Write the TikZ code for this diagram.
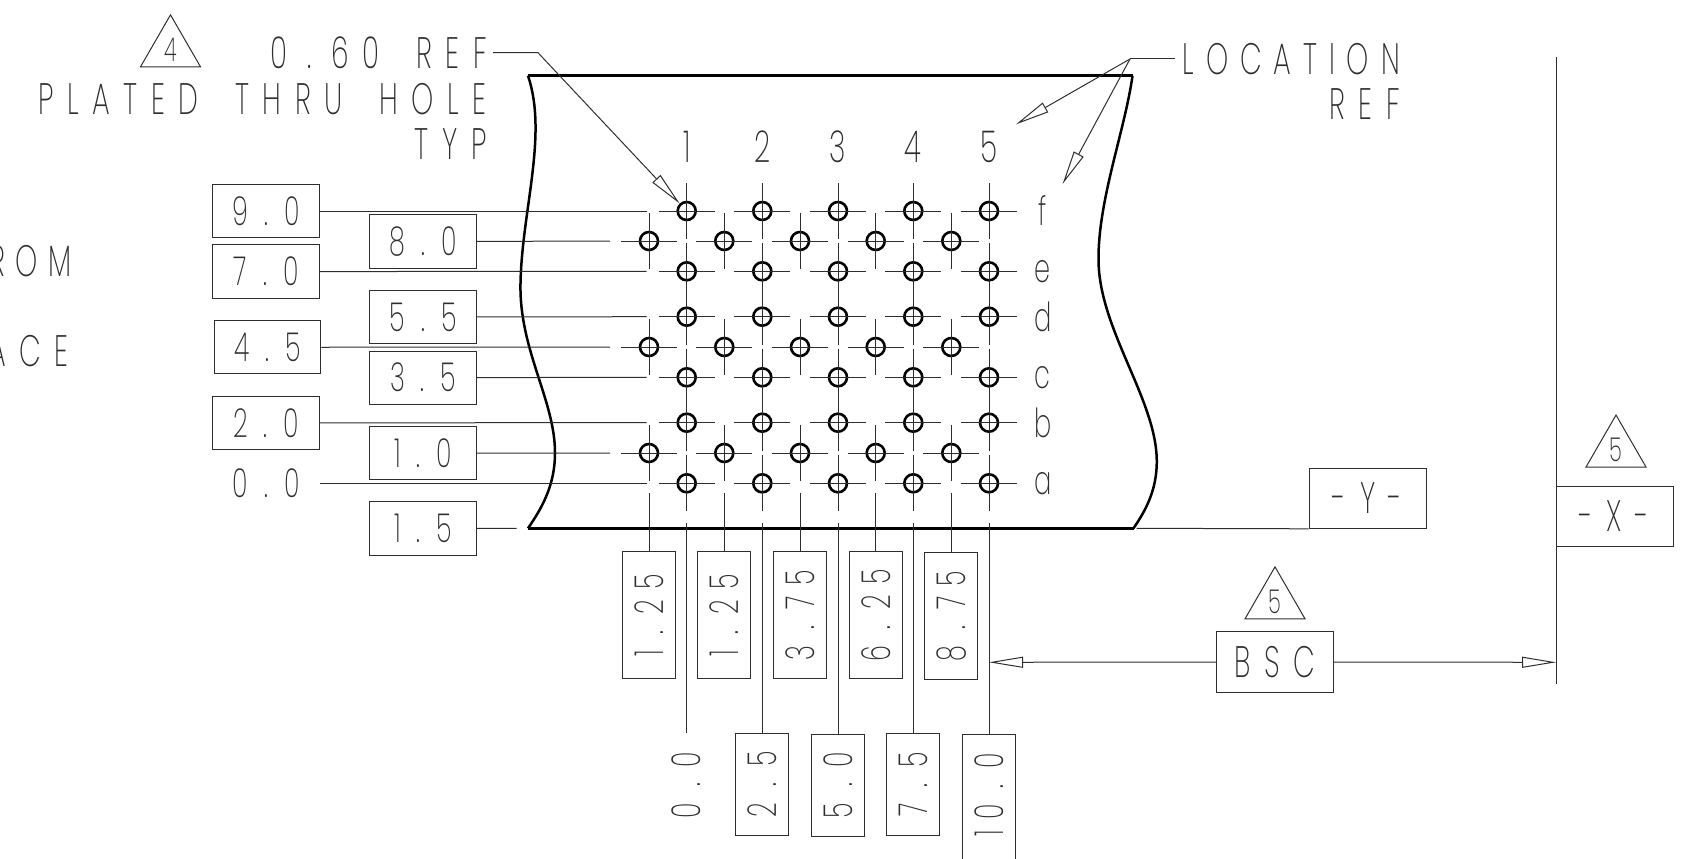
\documentclass[tikz,border=0pt]{standalone}
\usepackage{fontspec}
\newfontfamily\cadfont{Poppins}[UprightFont=* ExtraLight, FakeStretch=0.64, LetterSpace=31, WordSpace=1.7]
\newfontfamily\numfont{Poppins}[UprightFont=* ExtraLight, FakeStretch=0.64, LetterSpace=26]
\newcommand{\pnt}{\hspace{16pt}.\hspace{16pt}}
\usetikzlibrary{shapes.geometric, arrows.meta, positioning}
\colorlet{ink}{black!82}
\tikzstyle{big} = [inner sep=0, text=ink, font=\cadfont\fontsize{44}{50}\selectfont]
\tikzstyle{mid} = [inner sep=0, text=ink, font=\numfont\fontsize{40}{46}\selectfont]
\tikzstyle{dimbox} = [mid, draw=ink, line width=1pt, minimum width=106.5pt, minimum height=53.3pt]
\tikzstyle{upbox} = [dimbox, rotate=90, minimum width=127.3pt]
\tikzstyle{lowbox} = [dimbox, rotate=90, minimum width=102pt]
\tikzstyle{datum} = [big, draw=ink, line width=1pt, minimum width=117pt, minimum height=60pt]
\tikzstyle{flagmark} = [regular polygon, regular polygon sides=3, draw=ink, line width=1pt, minimum size=69.3pt, inner sep=0, text=ink, font=\numfont\fontsize{33}{38}\selectfont]
\tikzstyle{hole} = [circle, draw, line width=2.6pt, minimum size=18pt, inner sep=0]
\tikzstyle{cline} = [draw=ink, line width=1pt]
\tikzstyle{edge} = [draw=black, line width=2.5pt]
\tikzstyle{lead} = [draw=ink, line width=1pt, -{Triangle[open, length=34pt, width=11pt]}]
\begin{document}
\begin{tikzpicture}[x=1pt, y=-1pt]
  \useasboundingbox (0,0) rectangle (1686,859);
  \clip (0,0) rectangle (1686,859);

  % holes, main rows
  \foreach \col/\x in {1/686.7, 2/762.3, 3/838, 4/913.3, 5/989}
    \foreach \row/\y in {f/211, e/271.3, d/316.7, c/377.3, b/422.7, a/483.3} {
      \node[hole] (h\col\row) at (\x,\y) {};
      \draw[cline] (h\col\row.center) ++(-28,0) -- ++(56,0);
    }

  % holes, offset rows
  \foreach \col/\x in {1/649, 2/724.3, 3/800, 4/875.7, 5/951.3}
    \foreach \row/\y in {u/241, m/347, l/453} {
      \node[hole] (o\col\row) at (\x,\y) {};
      \draw[cline] (o\col\row.center) ++(-28,0) -- ++(56,0);
      \draw[cline] (o\col\row.center) ++(0,-28) -- ++(0,56);
    }

  % vertical centre lines
  \foreach \col in {1,...,5} {
    \draw[cline] (h\col f.center) ++(0,-28) -- ++(0,56);
    \draw[cline] (h\col e.center) ++(0,-28) -- ([yshift=-28pt]h\col d.center);
    \draw[cline] (h\col c.center) ++(0,-28) -- ([yshift=-28pt]h\col b.center);
    \draw[cline] (h\col a.center) ++(0,-28) -- ++(0,56);
  }

  % board outline
  \draw[edge] (528,75.7) -- (1132.5,75.7);
  \draw[edge] (528,528.3) -- (1133.5,528.3);
  \draw[edge] (528,75.7) .. controls (548,135) and (522,210) .. (520.5,283) .. controls (519,350) and (555,400) .. (555,453) .. controls (555,485) and (542,508) .. (528,528.3);
  \draw[edge] (1132.5,75.7) .. controls (1125,130) and (1098,200) .. (1098.5,260) .. controls (1099,330) and (1157,400) .. (1156.8,462) .. controls (1156.6,490) and (1146,510) .. (1133.5,528.3);

  % column and row names
  \foreach \col in {1,...,5}
    \node[big] (n\col) at (h\col f |- 0,146.5) {\col};
  \foreach \row in {f,e,d,c,b,a}
    \node[mid, right=53.7pt of h5\row.center, anchor=center] (r\row) {\row};

  % left side, first column
  \node[dimbox] (d90) at (266.2,211) {9\pnt 0};
  \node[dimbox] (d70) at (266.2,271.6) {7\pnt 0};
  \node[dimbox] (d45) at (267.5,347.3) {4\pnt 5};
  \node[dimbox] (d20) at (266.2,422.8) {2\pnt 0};
  \node[mid] (d00) at (266.2,483.3) {0\pnt 0};
  \coordinate (d00e) at (319.5,483.3);

  % left side, second column
  \node[dimbox] (d80) at (423.2,241.6) {8\pnt 0};
  \node[dimbox] (d55) at (423.2,317) {5\pnt 5};
  \node[dimbox] (d35) at (423.2,377.7) {3\pnt 5};
  \node[dimbox] (d10) at (423.2,453.3) {1\pnt 0};
  \node[dimbox] (d15) at (423.2,528.6) {1\pnt 5};
  \coordinate (d15e) at (516.7,528.3);

  \draw[cline] (d90) -- ([xshift=-40pt]h1f.center);
  \draw[cline] (d70) -- ([xshift=-40pt]h1e.center);
  \draw[cline] (d55) -- ([xshift=-40pt]h1d.center);
  \draw[cline] (d35) -- ([xshift=-40pt]h1c.center);
  \draw[cline] (d20) -- ([xshift=-40pt]h1b.center);
  \draw[cline] (d00e) -- ([xshift=-40pt]h1a.center);
  \draw[cline] (d80) -- ([xshift=-39pt]o1u.center);
  \draw[cline] (d45) -- ([xshift=-39pt]o1m.center);
  \draw[cline] (d10) -- ([xshift=-39pt]o1l.center);
  \draw[cline] (d15) -- (d15e);

  % bottom, upper boxes
  \node[upbox] (u1) at (649,615.3) {1\pnt 25};
  \node[upbox] (u2) at (724.3,615.3) {1\pnt 25};
  \node[upbox] (u3) at (800,615.3) {3\pnt 75};
  \node[upbox] (u4) at (875.7,615.3) {6\pnt 25};
  \node[upbox] (u5) at (951.3,616) {8\pnt 75};

  % bottom, lower boxes
  \node[mid, rotate=90] (w1) at (686.7,785) {0\pnt 0};
  \coordinate (w1t) at (686.7,733.3);
  \node[lowbox] (w2) at (762.3,784.3) {2\pnt 5};
  \node[lowbox] (w3) at (838,785) {5\pnt 0};
  \node[lowbox] (w4) at (913.3,784.3) {7\pnt 5};
  \node[dimbox, rotate=90, minimum width=146pt, text width=108pt, align=right] (w5) at (989,807) {10\pnt 0};

  \foreach \col in {1,...,5}
    \draw[cline] (o\col l.center) ++(0,40) -- (u\col.east);
  \draw[cline] (h1a.center) ++(0,40) -- (w1t);
  \foreach \col in {2,...,5}
    \draw[cline] (h\col a.center) ++(0,40) -- (w\col.east);

  % hole note
  \node[flagmark] (m4) at (170.5,49.5) {4};
  \node[big, anchor=base east] (t1) at (487,69) {0\hspace{20pt}.\hspace{20pt}60 REF};
  \node[big, anchor=base east] (t2) at (487,114) {PLATED THRU HOLE};
  \node[big, anchor=base east] (t3) at (487,159) {TYP};
  \coordinate (t1a) at (493,52.7);
  \coordinate (t1b) at (538,52.7);
  \draw[lead] (t1a) -- (t1b) -- (h1f);

  % location note
  \node[big, anchor=base east] (l1) at (1400,74.3) {\addfontfeatures{LetterSpace=27}LOCATION};
  \node[big, anchor=base east] (l2) at (1400,119.3) {REF};
  \coordinate (l1a) at (1175,59);
  \coordinate (l1b) at (1130,59);
  \coordinate (tipa) at (1016,124.3);
  \coordinate (tipb) at (1062.6,184);
  \draw[cline] (l1a) -- (l1b);
  \draw[lead] (l1b) -- (tipa);
  \draw[lead] (l1b) -- (tipb);

  % cut off notes at left
  \node[big, anchor=base east] (c1) at (71.6,276) {\addfontfeatures{LetterSpace=24}ROM};
  \node[big, anchor=base east] (c2) at (69,366.7) {ACE};

  % datums
  \node[datum] (y) at (1367.7,498.3) {-Y-};
  \coordinate (ye) at (1136.6,528.3);
  \draw[cline] (y.south west) -- (ye);
  \coordinate (xa) at (1556,57.3);
  \coordinate (xb) at (1556,684.3);
  \draw[cline] (xa) -- (xb);
  \node[datum] (x) at (1614.5,516) {-X-};
  \node[flagmark] (m5x) at (1616,449.7) {5};

  % basic dimension
  \node[datum, minimum height=60.6pt] (bsc) at (1275,662) {BSC};
  \node[flagmark] (m5b) at (1275,601.5) {5};
  \coordinate (xm) at (1556,662.3);
  \coordinate (hm) at (989,662.3);
  \draw[lead] (bsc.west) -- (hm);
  \draw[lead] (bsc.east) -- (xm);
\end{tikzpicture}
\end{document}
